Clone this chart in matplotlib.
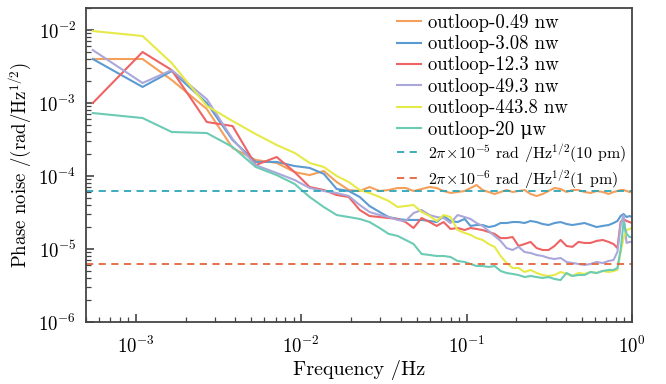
import matplotlib
matplotlib.use('Agg')
import matplotlib.pyplot as plt
from matplotlib.ticker import LogLocator, NullFormatter

plt.rcParams['font.family'] = ['cmr10', 'DejaVu Serif']
plt.rcParams['mathtext.fontset'] = 'cm'
plt.rcParams['axes.formatter.use_mathtext'] = True

# frequency grid (Hz)
freq = [5.5e-4, 1.1e-3, 1.65e-3, 2.69e-3, 3.85e-3, 5.31e-3, 7.11e-3, 9.14e-3,
        1.125e-2, 1.37e-2, 1.64e-2, 1.94e-2, 2.26e-2, 2.59e-2, 2.98e-2, 3.38e-2,
        3.83e-2, 4.28e-2, 4.78e-2, 5.35e-2, 5.98e-2, 6.59e-2, 7.26e-2, 8.0e-2,
        8.82e-2, 9.73e-2, 0.1057, 0.1148, 0.125, 0.136, 0.1477, 0.1604, 0.1745,
        0.1897, 0.206, 0.224, 0.2436, 0.265, 0.288, 0.313, 0.340, 0.370, 0.402,
        0.436, 0.475, 0.516, 0.561, 0.611, 0.664, 0.722, 0.773, 0.816, 0.853,
        0.889, 0.927, 0.966, 1.0]

noise_049nw = [4.01e-3, 4.01e-3, 2.07e-3, 8.28e-4, 2.42e-4, 1.66e-4, 1.51e-4, 1.13e-4,
               1.03e-4, 1.17e-4, 8.28e-5, 6.43e-5, 6.23e-5, 7.07e-5, 6.23e-5, 6.43e-5,
               6.85e-5, 6.85e-5, 6.23e-5, 6.64e-5, 7.07e-5, 6.85e-5, 6.23e-5, 5.85e-5,
               6.04e-5, 6.23e-5, 6.85e-5, 7.53e-5, 6.43e-5, 6.04e-5, 5.67e-5, 6.04e-5,
               6.43e-5, 6.04e-5, 6.23e-5, 6.43e-5, 5.67e-5, 5.32e-5, 5.67e-5, 6.23e-5,
               6.85e-5, 6.64e-5, 6.04e-5, 6.43e-5, 6.43e-5, 6.04e-5, 5.85e-5, 6.23e-5,
               6.04e-5, 5.67e-5, 6.04e-5, 6.23e-5, 6.43e-5, 6.43e-5, 6.23e-5, 6.04e-5,
               6.04e-5]

noise_308nw = [4.01e-3, 1.66e-3, 2.74e-3, 1.0e-3, 3.11e-4, 1.56e-4, 1.56e-4, 1.37e-4,
               1.29e-4, 1.07e-4, 6.64e-5, 6.23e-5, 5.16e-5, 3.88e-5, 3.21e-5, 2.74e-5,
               2.58e-5, 2.50e-5, 2.50e-5, 2.50e-5, 2.42e-5, 2.34e-5, 2.83e-5, 2.42e-5,
               2.34e-5, 2.58e-5, 2.07e-5, 2.13e-5, 2.13e-5, 2.00e-5, 2.07e-5, 2.27e-5,
               2.27e-5, 2.34e-5, 2.34e-5, 2.27e-5, 2.42e-5, 2.34e-5, 2.20e-5, 2.13e-5,
               2.27e-5, 2.34e-5, 2.20e-5, 2.13e-5, 2.20e-5, 2.27e-5, 2.13e-5, 2.00e-5,
               2.07e-5, 2.13e-5, 2.27e-5, 2.42e-5, 2.83e-5, 3.02e-5, 2.74e-5, 2.83e-5,
               2.74e-5]

noise_123nw = [1.0e-3, 5.00e-3, 2.83e-3, 5.49e-4, 4.84e-4, 1.41e-4, 1.82e-4, 1.13e-4,
               7.07e-5, 6.43e-5, 5.49e-5, 5.16e-5, 3.42e-5, 2.83e-5, 2.74e-5, 2.66e-5,
               2.58e-5, 2.34e-5, 1.94e-5, 2.66e-5, 2.34e-5, 2.07e-5, 2.34e-5, 1.88e-5,
               1.94e-5, 1.82e-5, 1.94e-5, 1.88e-5, 1.82e-5, 1.71e-5, 1.61e-5, 1.41e-5,
               1.41e-5, 1.46e-5, 1.10e-5, 1.17e-5, 1.25e-5, 1.03e-5, 9.69e-6, 9.69e-6,
               1.10e-5, 1.33e-5, 1.10e-5, 1.07e-5, 1.25e-5, 1.21e-5, 1.21e-5, 1.29e-5,
               1.33e-5, 1.25e-5, 1.17e-5, 1.03e-5, 2.34e-5, 2.58e-5, 2.42e-5, 2.34e-5,
               2.27e-5]

noise_493nw = [5.32e-3, 1.88e-3, 2.83e-3, 1.13e-3, 3.21e-4, 1.41e-4, 1.10e-4, 8.81e-5,
               6.85e-5, 6.23e-5, 5.85e-5, 5.32e-5, 4.01e-5, 3.21e-5, 2.92e-5, 2.74e-5,
               2.50e-5, 2.42e-5, 3.11e-5, 3.42e-5, 2.92e-5, 2.74e-5, 2.66e-5, 2.27e-5,
               2.92e-5, 2.74e-5, 2.58e-5, 2.27e-5, 2.07e-5, 1.76e-5, 1.51e-5, 1.29e-5,
               1.03e-5, 9.69e-6, 1.07e-5, 9.10e-6, 8.81e-6, 8.28e-6, 8.02e-6, 7.53e-6,
               7.29e-6, 7.53e-6, 6.64e-6, 6.43e-6, 6.23e-6, 6.04e-6, 6.23e-6, 6.64e-6,
               6.43e-6, 6.85e-6, 7.07e-6, 9.10e-6, 2.13e-5, 2.92e-5, 1.21e-5, 1.25e-5,
               1.25e-5]

noise_4438nw = [9.69e-3, 8.28e-3, 3.53e-3, 9.10e-4, 5.67e-4, 3.76e-4, 2.66e-4, 2.07e-4,
                1.51e-4, 1.33e-4, 1.0e-4, 8.28e-5, 6.43e-5, 5.85e-5, 5.16e-5, 4.55e-5,
                3.76e-5, 3.88e-5, 4.01e-5, 3.21e-5, 2.83e-5, 2.42e-5, 2.92e-5, 2.74e-5,
                1.82e-5, 1.66e-5, 1.56e-5, 1.41e-5, 1.33e-5, 1.17e-5, 1.07e-5, 8.02e-6,
                6.43e-6, 5.49e-6, 5.49e-6, 4.84e-6, 5.16e-6, 4.69e-6, 4.40e-6, 4.27e-6,
                4.40e-6, 4.84e-6, 4.55e-6, 4.27e-6, 4.69e-6, 4.55e-6, 4.84e-6, 4.69e-6,
                5.00e-6, 4.84e-6, 5.00e-6, 5.16e-6, 9.10e-6, 1.41e-5, 1.82e-5, 1.88e-5,
                1.94e-5]

noise_20uw = [7.29e-4, 6.23e-4, 4.01e-4, 3.88e-4, 2.50e-4, 1.33e-4, 1.03e-4, 7.77e-5,
              5.16e-5, 3.76e-5, 2.92e-5, 2.74e-5, 2.58e-5, 2.34e-5, 1.94e-5, 1.61e-5,
              1.51e-5, 1.33e-5, 1.17e-5, 8.54e-6, 8.28e-6, 8.02e-6, 8.02e-6, 7.77e-6,
              6.85e-6, 6.64e-6, 6.23e-6, 5.85e-6, 5.85e-6, 5.67e-6, 5.85e-6, 5.00e-6,
              4.69e-6, 4.55e-6, 4.40e-6, 4.13e-6, 4.27e-6, 4.13e-6, 4.01e-6, 4.13e-6,
              3.88e-6, 3.76e-6, 4.69e-6, 4.27e-6, 4.40e-6, 4.40e-6, 4.84e-6, 4.69e-6,
              5.00e-6, 5.16e-6, 5.16e-6, 5.49e-6, 9.69e-6, 2.34e-5, 1.61e-5, 1.46e-5,
              1.46e-5]

labels = ['outloop-0.49 nw', 'outloop-3.08 nw', 'outloop-12.3 nw',
          'outloop-49.3 nw', 'outloop-443.8 nw', 'outloop-20 \u03bcw']
colors = ['#f5a05a', '#5b9bd1', '#ee6464', '#aaa8da', '#e6ea48', '#6ccbb4']

ref_10pm = 6.283e-5
ref_1pm = 6.283e-6
ref_labels = [r'2$\pi\!\times\!$10$^{-5}$ rad /Hz$^{1/2}$(10 pm)',
              r'2$\pi\!\times\!$10$^{-6}$ rad /Hz$^{1/2}$(1 pm)']


def main():
    fig = plt.figure(figsize=(6.66, 3.84), dpi=100)
    ax = fig.add_axes([0.129, 0.1615, 0.82, 0.8175])

    series = [noise_049nw, noise_308nw, noise_123nw, noise_493nw, noise_4438nw, noise_20uw]
    for vals, lab, col in zip(series, labels, colors):
        ax.plot(freq, vals, color=col, linewidth=1.5, label=lab)

    ax.axhline(ref_10pm, color='#2ea5b6', linestyle='--', linewidth=1.3, dashes=(4, 3),
               label=ref_labels[0])
    ax.axhline(ref_1pm, color='#e4653e', linestyle='--', linewidth=1.3, dashes=(4, 3),
               label=ref_labels[1])

    ax.set_xscale('log')
    ax.set_yscale('log')
    ax.set_xlim(5e-4, 1.0)
    ax.set_ylim(1e-6, 2e-2)

    format_axes(ax)

    ax.set_xlabel('Frequency /Hz', fontsize=14.5, labelpad=2)
    ax.set_ylabel('Phase noise /(rad/Hz$^{1/2}$)', fontsize=13.5, labelpad=3)

    leg = ax.legend(loc='upper right', frameon=False, fontsize=13.5, handlelength=1.3,
                    handletextpad=0.4, labelspacing=0.18, borderaxespad=0.1,
                    borderpad=0.2, bbox_to_anchor=(1.0, 1.0))
    for txt in leg.get_texts()[6:]:
        txt.set_fontsize(11.5)

    fig.savefig('out.png', dpi=100)


def format_axes(ax):
    for spine in ax.spines.values():
        spine.set_color('#444444')
        spine.set_linewidth(1.3)
    ax.xaxis.set_major_locator(LogLocator(base=10, numticks=10))
    ax.xaxis.set_minor_locator(LogLocator(base=10, subs=range(2, 10), numticks=20))
    ax.yaxis.set_major_locator(LogLocator(base=10, numticks=10))
    ax.yaxis.set_minor_locator(LogLocator(base=10, subs=range(2, 10), numticks=20))
    ax.xaxis.set_minor_formatter(NullFormatter())
    ax.yaxis.set_minor_formatter(NullFormatter())
    ax.tick_params(which='both', direction='in', top=False, right=False,
                   color='#444444', labelsize=13.5)
    ax.tick_params(axis='x', which='major', pad=10)
    ax.tick_params(axis='y', which='major', pad=7)
    ax.tick_params(which='major', length=6, width=1.2)
    ax.tick_params(which='minor', length=3.5, width=0.9)


if __name__ == '__main__':
    main()
